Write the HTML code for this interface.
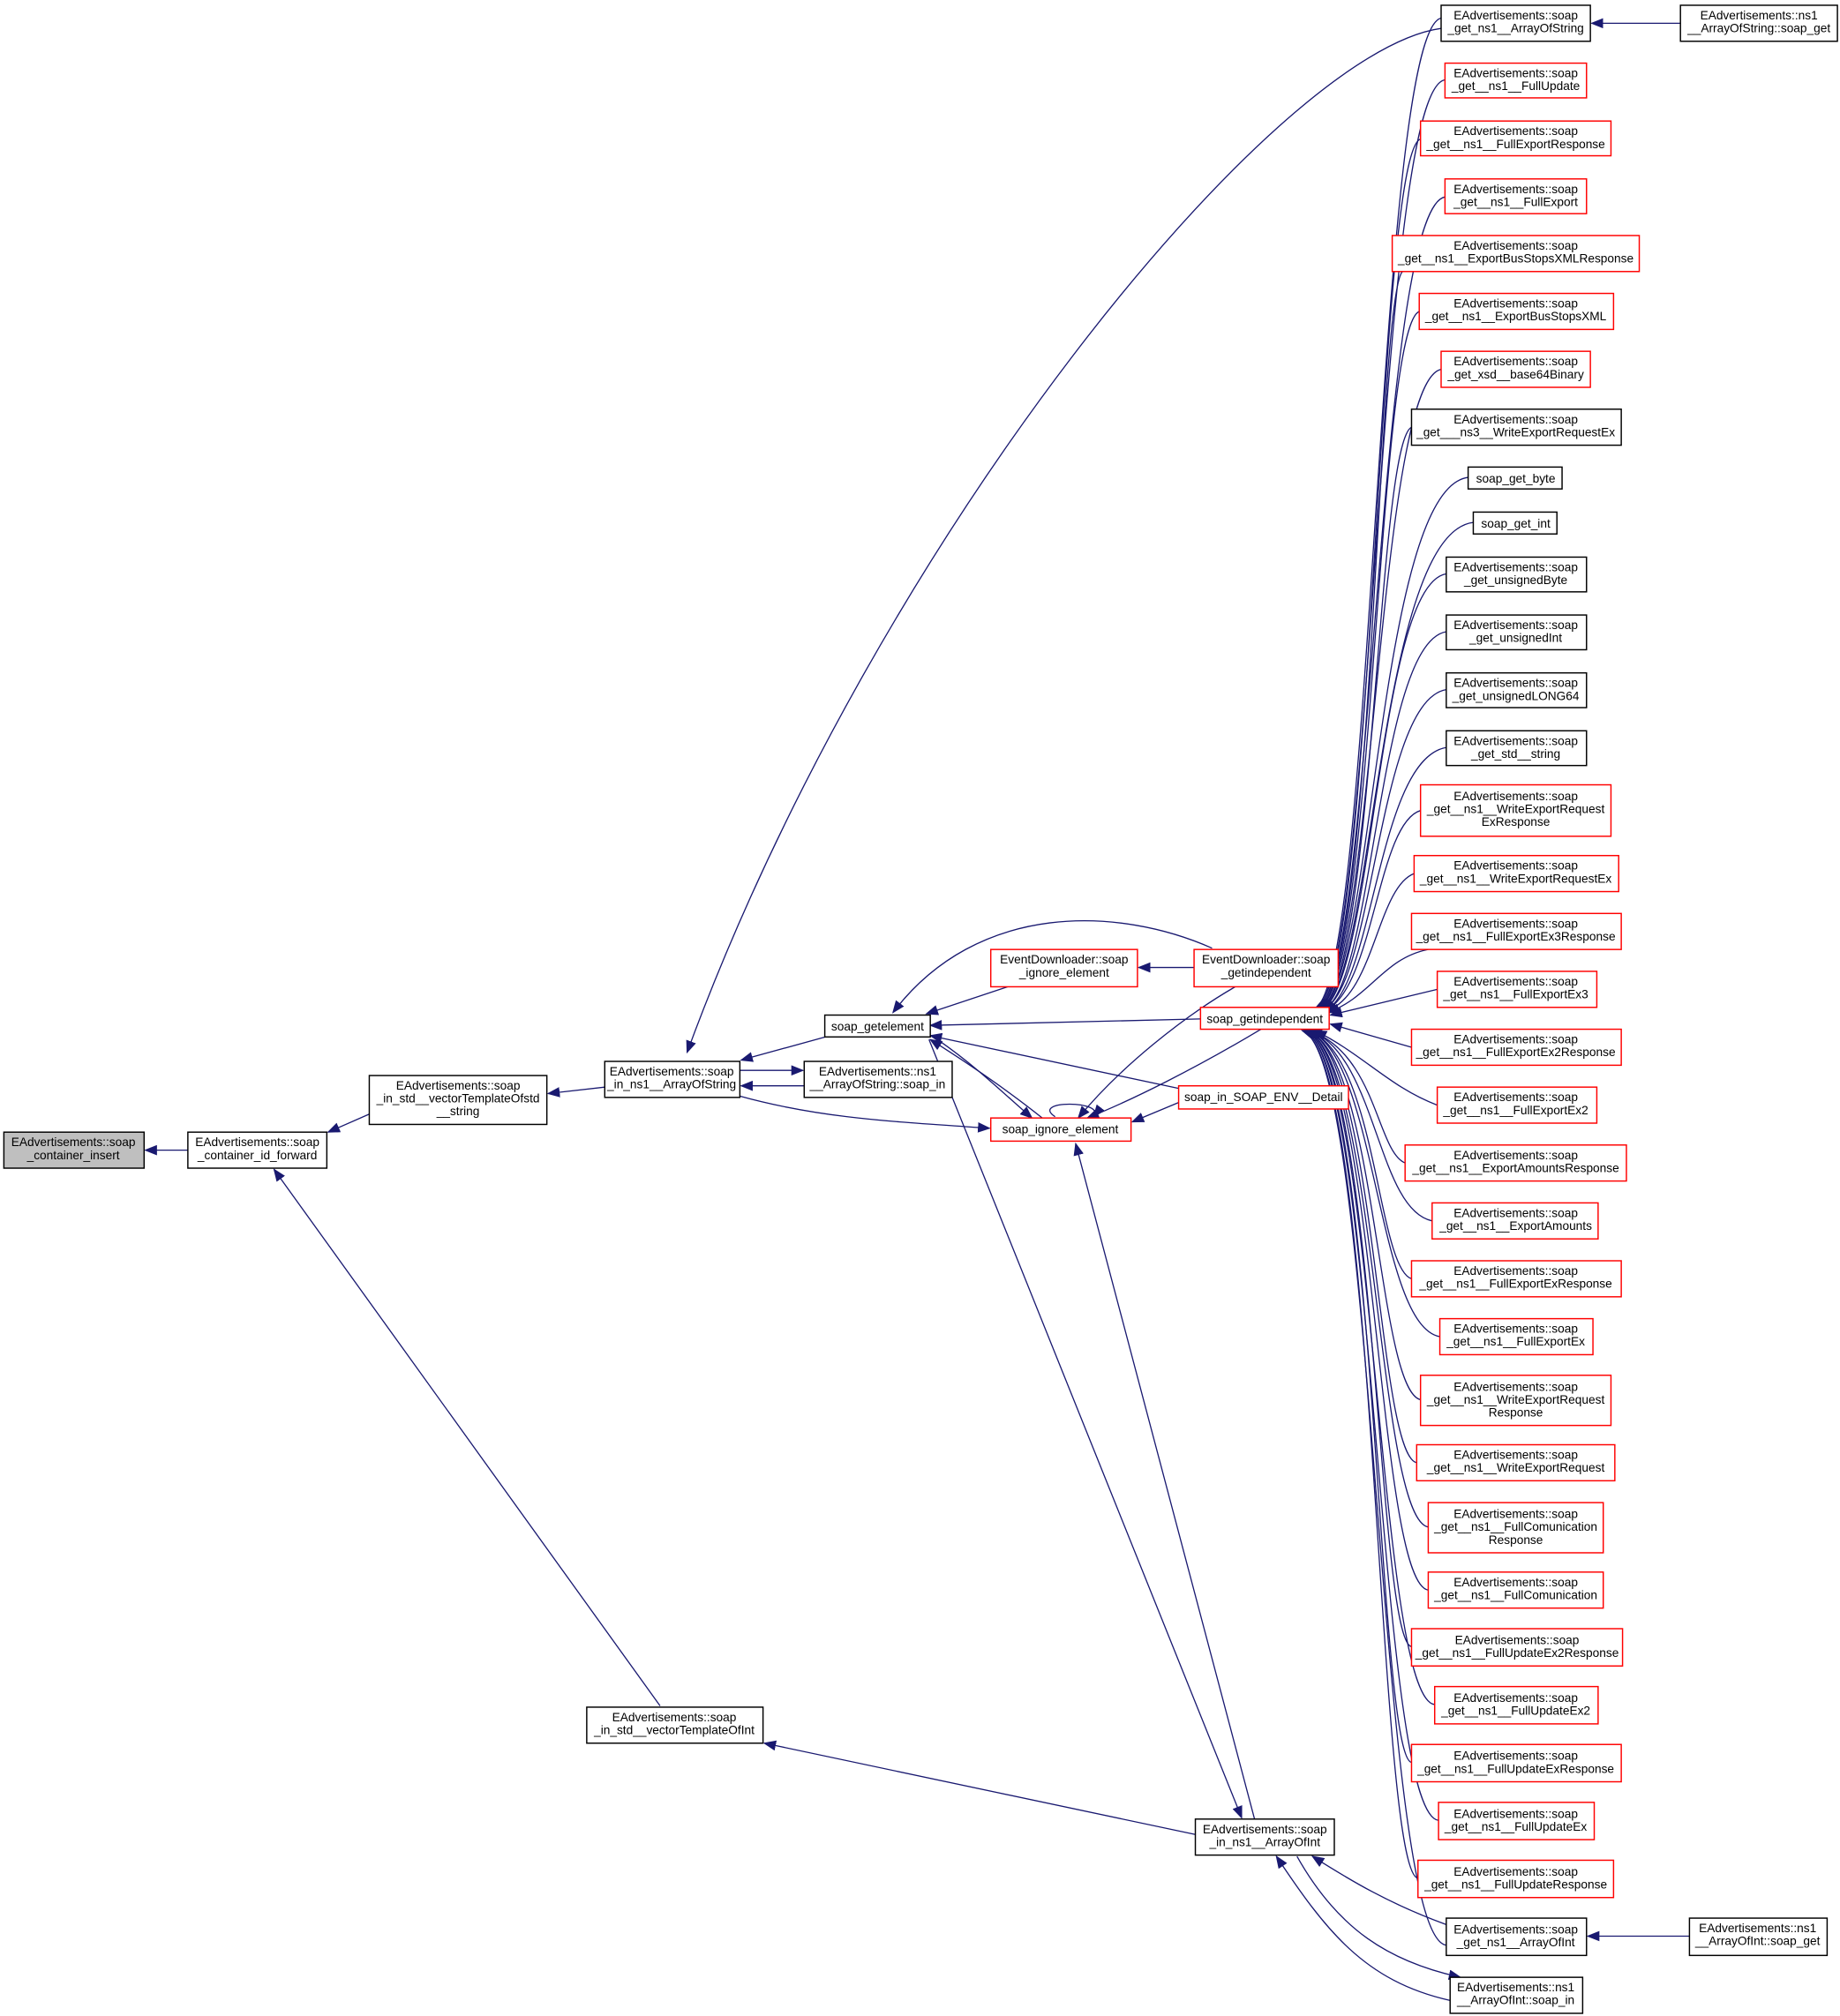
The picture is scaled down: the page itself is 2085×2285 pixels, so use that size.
<!DOCTYPE html>
<html><head><meta charset="utf-8"><style>html,body{margin:0;padding:0;background:#fff}svg{display:block}text{font-family:"Liberation Sans",sans-serif;font-size:9.4px;fill:#000}</style></head>
<body>
<svg width="2085" height="2285" viewBox="0 0 1430 1567" xmlns="http://www.w3.org/2000/svg">
<defs><marker id="a" markerWidth="10" markerHeight="8" refX="9" refY="4" orient="auto" markerUnits="userSpaceOnUse"><path d="M0,0 L10,4 L0,8 z" fill="#191970"/></marker></defs>
<g fill="none" stroke="#191970" stroke-width="0.9" marker-end="url(#a)">
<path d="M146,894 L113,894"/>
<path d="M287,866 L255,880"/>
<path d="M470,845 L426,850"/>
<path d="M645,805 L576,824"/>
<path d="M575,832 L624,832"/>
<path d="M625,844 L576,844"/>
<path d="M575,852 C640,870 700,872 769,877"/>
<path d="M1120,22 C990,40 680,420 534,818"/>
<path d="M513,1326 L213,909"/>
<path d="M929,1426 L594,1355"/>
<path d="M722,808 L965,1413"/>
<path d="M975,1414 L836,889"/>
<path d="M928,752 L885,752"/>
<path d="M942,737 C870,705 760,700 694,787"/>
<path d="M783,767 L720,788"/>
<path d="M933,792 L723,797"/>
<path d="M916,846 L723,805"/>
<path d="M730,809 C760,830 780,850 802,869"/>
<path d="M810,869 C780,845 750,825 723,808"/>
<path d="M820,868 C800,855 860,855 850,868"/>
<path d="M960,767 C920,790 870,830 838,869"/>
<path d="M980,800 C930,830 880,855 845,869"/>
<path d="M916,857 L880,872"/>
<path d="M1124,1496 C1080,1480 1050,1462 1020,1443"/>
<path d="M1008,1443 C1040,1500 1080,1525 1135,1537"/>
<path d="M1127,1555 C1060,1540 1030,1500 992,1443"/>
<path d="M1313,1505 L1234,1505"/>
<path d="M1306,18 L1237,18"/>
<path d="M1120,14 C1070,25 1068,760 1022,784"/>
<path d="M1123,62 C1070,70 1068,760 1023,784"/>
<path d="M1104,108 C1070,118 1068,760 1023,784"/>
<path d="M1123,153 C1070,163 1068,760 1024,784"/>
<path d="M1090,211 C1070,230 1068,760 1024,784"/>
<path d="M1103,242 C1070,255 1068,760 1025,784"/>
<path d="M1120,287 C1070,297 1068,765 1025,784"/>
<path d="M1097,332 C1070,345 1068,765 1026,784"/>
<path d="M1141,371 C1070,380 1068,765 1026,785"/>
<path d="M1145,406 C1070,415 1068,765 1027,785"/>
<path d="M1124,446 C1070,455 1068,765 1027,785"/>
<path d="M1124,491 C1070,500 1068,770 1028,785"/>
<path d="M1124,536 C1070,545 1068,770 1028,785"/>
<path d="M1124,581 C1070,590 1068,770 1029,786"/>
<path d="M1104,630 C1070,640 1068,770 1029,786"/>
<path d="M1099,679 C1070,690 1068,775 1030,786"/>
<path d="M1110,738 C1075,745 1065,775 1032,787"/>
<path d="M1117,769 L1034,789"/>
<path d="M1097,814 L1034,796"/>
<path d="M1117,859 C1080,845 1060,820 1022,801"/>
<path d="M1092,904 C1070,895 1070,820 1018,801"/>
<path d="M1113,949 C1070,940 1070,820 1018,801"/>
<path d="M1097,994 C1070,985 1070,820 1017,801"/>
<path d="M1119,1039 C1070,1030 1070,820 1017,801"/>
<path d="M1104,1088 C1070,1080 1070,820 1016,801"/>
<path d="M1101,1137 C1070,1130 1070,820 1016,801"/>
<path d="M1110,1187 C1070,1180 1070,820 1015,801"/>
<path d="M1110,1236 C1070,1230 1070,820 1015,801"/>
<path d="M1097,1280 C1070,1275 1070,820 1014,801"/>
<path d="M1115,1325 C1070,1320 1070,820 1014,801"/>
<path d="M1097,1370 C1070,1365 1070,820 1013,801"/>
<path d="M1118,1415 C1070,1410 1070,820 1013,801"/>
<path d="M1102,1460 C1070,1455 1070,820 1012,801"/>
<path d="M1124,1512 C1070,1505 1070,820 1012,801"/>
</g>
<g stroke-width="1" fill="#fff">
<rect x="3" y="880" width="109" height="28" fill="#bfbfbf" stroke="#000"/>
<rect x="146" y="880" width="108" height="28" stroke="#000"/>
<rect x="287" y="836" width="138" height="38" stroke="#000"/>
<rect x="470" y="825" width="105" height="28" stroke="#000"/>
<rect x="625" y="825" width="115" height="28" stroke="#000"/>
<rect x="641" y="789" width="82" height="17" stroke="#000"/>
<rect x="456" y="1327" width="137" height="28" stroke="#000"/>
<rect x="929" y="1414" width="108" height="28" stroke="#000"/>
<rect x="770" y="869" width="109" height="18" stroke="#f00"/>
<rect x="770" y="738" width="114" height="29" stroke="#f00"/>
<rect x="928" y="738" width="112" height="29" stroke="#f00"/>
<rect x="933" y="783" width="100" height="17" stroke="#f00"/>
<rect x="916" y="844" width="132" height="18" stroke="#f00"/>
<rect x="1306" y="4" width="122" height="28" stroke="#000"/>
<rect x="1313" y="1491" width="107" height="29" stroke="#000"/>
<rect x="1120" y="4" width="116" height="28" stroke="#000"/>
<rect x="1123" y="49" width="110" height="27" stroke="#f00"/>
<rect x="1104" y="94" width="148" height="27" stroke="#f00"/>
<rect x="1123" y="139" width="110" height="27" stroke="#f00"/>
<rect x="1082" y="183" width="192" height="28" stroke="#f00"/>
<rect x="1103" y="228" width="151" height="28" stroke="#f00"/>
<rect x="1120" y="273" width="116" height="28" stroke="#f00"/>
<rect x="1097" y="318" width="163" height="28" stroke="#000"/>
<rect x="1141" y="363" width="73" height="17" stroke="#000"/>
<rect x="1145" y="398" width="65" height="17" stroke="#000"/>
<rect x="1124" y="433" width="109" height="27" stroke="#000"/>
<rect x="1124" y="478" width="109" height="27" stroke="#000"/>
<rect x="1124" y="523" width="109" height="27" stroke="#000"/>
<rect x="1124" y="568" width="109" height="27" stroke="#000"/>
<rect x="1104" y="610" width="148" height="40" stroke="#f00"/>
<rect x="1099" y="665" width="159" height="28" stroke="#f00"/>
<rect x="1097" y="710" width="163" height="28" stroke="#f00"/>
<rect x="1117" y="755" width="124" height="28" stroke="#f00"/>
<rect x="1097" y="800" width="163" height="28" stroke="#f00"/>
<rect x="1117" y="845" width="124" height="28" stroke="#f00"/>
<rect x="1092" y="890" width="172" height="28" stroke="#f00"/>
<rect x="1113" y="935" width="129" height="28" stroke="#f00"/>
<rect x="1097" y="980" width="163" height="28" stroke="#f00"/>
<rect x="1119" y="1025" width="119" height="28" stroke="#f00"/>
<rect x="1104" y="1069" width="148" height="39" stroke="#f00"/>
<rect x="1101" y="1123" width="154" height="28" stroke="#f00"/>
<rect x="1110" y="1168" width="136" height="39" stroke="#f00"/>
<rect x="1110" y="1222" width="136" height="28" stroke="#f00"/>
<rect x="1097" y="1266" width="164" height="29" stroke="#f00"/>
<rect x="1115" y="1311" width="127" height="29" stroke="#f00"/>
<rect x="1097" y="1356" width="163" height="29" stroke="#f00"/>
<rect x="1118" y="1401" width="121" height="29" stroke="#f00"/>
<rect x="1102" y="1446" width="152" height="29" stroke="#f00"/>
<rect x="1124" y="1491" width="109" height="29" stroke="#000"/>
<rect x="1127" y="1537" width="103" height="28" stroke="#000"/>
</g>
<g text-anchor="middle">
<text x="57" y="891">EAdvertisements::soap</text><text x="57" y="901">_container_insert</text>
<text x="200" y="891">EAdvertisements::soap</text><text x="200" y="901">_container_id_forward</text>
<text x="356" y="847">EAdvertisements::soap</text><text x="356" y="857">_in_std__vectorTemplateOfstd</text><text x="356" y="867">__string</text>
<text x="522" y="836">EAdvertisements::soap</text><text x="522" y="846">_in_ns1__ArrayOfString</text>
<text x="682" y="836">EAdvertisements::ns1</text><text x="682" y="846">__ArrayOfString::soap_in</text>
<text x="682" y="801">soap_getelement</text>
<text x="524" y="1338">EAdvertisements::soap</text><text x="524" y="1348">_in_std__vectorTemplateOfInt</text>
<text x="983" y="1425">EAdvertisements::soap</text><text x="983" y="1435">_in_ns1__ArrayOfInt</text>
<text x="824" y="881">soap_ignore_element</text>
<text x="827" y="749">EventDownloader::soap</text><text x="827" y="759">_ignore_element</text>
<text x="984" y="749">EventDownloader::soap</text><text x="984" y="759">_getindependent</text>
<text x="983" y="795">soap_getindependent</text>
<text x="982" y="856">soap_in_SOAP_ENV__Detail</text>
<text x="1367" y="15">EAdvertisements::ns1</text><text x="1367" y="25">__ArrayOfString::soap_get</text>
<text x="1366" y="1502">EAdvertisements::ns1</text><text x="1366" y="1512">__ArrayOfInt::soap_get</text>
<text x="1178" y="15">EAdvertisements::soap</text><text x="1178" y="25">_get_ns1__ArrayOfString</text>
<text x="1178" y="60">EAdvertisements::soap</text><text x="1178" y="70">_get__ns1__FullUpdate</text>
<text x="1178" y="105">EAdvertisements::soap</text><text x="1178" y="115">_get__ns1__FullExportResponse</text>
<text x="1178" y="150">EAdvertisements::soap</text><text x="1178" y="160">_get__ns1__FullExport</text>
<text x="1178" y="194">EAdvertisements::soap</text><text x="1178" y="204">_get__ns1__ExportBusStopsXMLResponse</text>
<text x="1178" y="239">EAdvertisements::soap</text><text x="1178" y="249">_get__ns1__ExportBusStopsXML</text>
<text x="1178" y="284">EAdvertisements::soap</text><text x="1178" y="294">_get_xsd__base64Binary</text>
<text x="1178" y="329">EAdvertisements::soap</text><text x="1178" y="339">_get___ns3__WriteExportRequestEx</text>
<text x="1178" y="375">soap_get_byte</text>
<text x="1178" y="410">soap_get_int</text>
<text x="1178" y="444">EAdvertisements::soap</text><text x="1178" y="454">_get_unsignedByte</text>
<text x="1178" y="489">EAdvertisements::soap</text><text x="1178" y="499">_get_unsignedInt</text>
<text x="1178" y="534">EAdvertisements::soap</text><text x="1178" y="544">_get_unsignedLONG64</text>
<text x="1178" y="579">EAdvertisements::soap</text><text x="1178" y="589">_get_std__string</text>
<text x="1178" y="622">EAdvertisements::soap</text><text x="1178" y="632">_get__ns1__WriteExportRequest</text><text x="1178" y="642">ExResponse</text>
<text x="1178" y="676">EAdvertisements::soap</text><text x="1178" y="686">_get__ns1__WriteExportRequestEx</text>
<text x="1178" y="721">EAdvertisements::soap</text><text x="1178" y="731">_get__ns1__FullExportEx3Response</text>
<text x="1178" y="766">EAdvertisements::soap</text><text x="1178" y="776">_get__ns1__FullExportEx3</text>
<text x="1178" y="811">EAdvertisements::soap</text><text x="1178" y="821">_get__ns1__FullExportEx2Response</text>
<text x="1178" y="856">EAdvertisements::soap</text><text x="1178" y="866">_get__ns1__FullExportEx2</text>
<text x="1178" y="901">EAdvertisements::soap</text><text x="1178" y="911">_get__ns1__ExportAmountsResponse</text>
<text x="1178" y="946">EAdvertisements::soap</text><text x="1178" y="956">_get__ns1__ExportAmounts</text>
<text x="1178" y="991">EAdvertisements::soap</text><text x="1178" y="1001">_get__ns1__FullExportExResponse</text>
<text x="1178" y="1036">EAdvertisements::soap</text><text x="1178" y="1046">_get__ns1__FullExportEx</text>
<text x="1178" y="1081">EAdvertisements::soap</text><text x="1178" y="1091">_get__ns1__WriteExportRequest</text><text x="1178" y="1101">Response</text>
<text x="1178" y="1134">EAdvertisements::soap</text><text x="1178" y="1144">_get__ns1__WriteExportRequest</text>
<text x="1178" y="1180">EAdvertisements::soap</text><text x="1178" y="1190">_get__ns1__FullComunication</text><text x="1178" y="1200">Response</text>
<text x="1178" y="1233">EAdvertisements::soap</text><text x="1178" y="1243">_get__ns1__FullComunication</text>
<text x="1179" y="1278">EAdvertisements::soap</text><text x="1179" y="1288">_get__ns1__FullUpdateEx2Response</text>
<text x="1178" y="1323">EAdvertisements::soap</text><text x="1178" y="1333">_get__ns1__FullUpdateEx2</text>
<text x="1178" y="1368">EAdvertisements::soap</text><text x="1178" y="1378">_get__ns1__FullUpdateExResponse</text>
<text x="1178" y="1413">EAdvertisements::soap</text><text x="1178" y="1423">_get__ns1__FullUpdateEx</text>
<text x="1178" y="1458">EAdvertisements::soap</text><text x="1178" y="1468">_get__ns1__FullUpdateResponse</text>
<text x="1178" y="1503">EAdvertisements::soap</text><text x="1178" y="1513">_get_ns1__ArrayOfInt</text>
<text x="1178" y="1548">EAdvertisements::ns1</text><text x="1178" y="1558">__ArrayOfInt::soap_in</text>
</g>
</svg>
</body></html>
